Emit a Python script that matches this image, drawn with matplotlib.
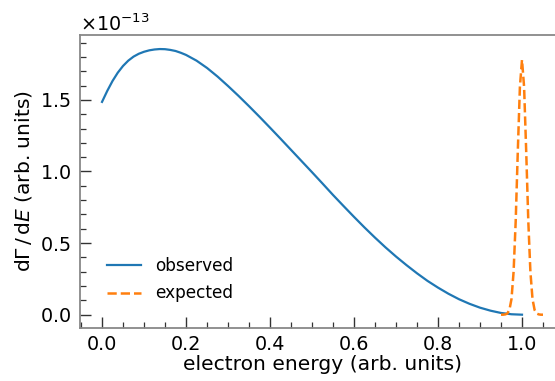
import matplotlib
matplotlib.use("Agg")
import matplotlib.pyplot as plt
from matplotlib.ticker import MultipleLocator, ScalarFormatter

# Measured electron spectrum (arb. units, in units of 1e-13)
energy_obs = [0.000, 0.0125, 0.025, 0.0375, 0.050, 0.0625, 0.075, 0.0875, 0.100, 0.1125,
              0.125, 0.1375, 0.150, 0.1625, 0.175, 0.1875, 0.200, 0.225, 0.250, 0.275,
              0.300, 0.325, 0.350, 0.375, 0.400, 0.425, 0.450, 0.475, 0.500, 0.525,
              0.550, 0.575, 0.600, 0.625, 0.650, 0.675, 0.700, 0.725, 0.750, 0.775,
              0.800, 0.825, 0.850, 0.875, 0.900, 0.925, 0.950, 0.975, 1.000]
rate_obs = [1.486, 1.563, 1.632, 1.690, 1.737, 1.774, 1.802, 1.822, 1.836, 1.846,
            1.852, 1.855, 1.854, 1.849, 1.8415, 1.829, 1.814, 1.774, 1.723, 1.663,
            1.597, 1.528, 1.456, 1.382, 1.306, 1.229, 1.151, 1.073, 0.995, 0.916,
            0.836, 0.759, 0.683, 0.609, 0.538, 0.470, 0.406, 0.346, 0.289, 0.236,
            0.189, 0.146, 0.108, 0.076, 0.049, 0.028, 0.012, 0.003, 0.000]

# Expected mono-energetic line at the endpoint
energy_exp = [0.950, 0.955, 0.960, 0.965, 0.970, 0.975, 0.980, 0.985, 0.990, 0.995,
              1.000, 1.005, 1.010, 1.015, 1.020, 1.025, 1.030, 1.035, 1.040, 1.045,
              1.050]
rate_exp = [0.000, 0.000, 0.002, 0.008, 0.033, 0.110, 0.300, 0.654, 1.141, 1.590,
            1.780, 1.590, 1.141, 0.654, 0.300, 0.110, 0.033, 0.008, 0.002, 0.000,
            0.000]

scale = 1e-13
y_obs = [v * scale for v in rate_obs]
y_exp = [v * scale for v in rate_exp]

fig = plt.figure(figsize=(5.55, 3.81), dpi=100)
ax = fig.add_axes([0.1441, 0.1391, 0.874, 0.769])

ax.plot(energy_obs, y_obs, color="#1f77b4", lw=1.6, label="observed")
ax.plot(energy_exp, y_exp, color="#ff7f0e", lw=1.8, ls="--", label="expected")

ax.set_xlim(-0.0525, 1.1025)
ax.set_ylim(-0.093e-13, 1.953e-13)

ax.xaxis.set_major_locator(MultipleLocator(0.2))
ax.xaxis.set_minor_locator(MultipleLocator(0.05))
ax.yaxis.set_major_locator(MultipleLocator(0.5e-13))
ax.yaxis.set_minor_locator(MultipleLocator(0.1e-13))

fmt = ScalarFormatter(useMathText=True)
fmt.set_powerlimits((-3, 3))
ax.yaxis.set_major_formatter(fmt)

ax.tick_params(which="both", direction="in", colors="#333333", labelcolor="black",
               labelsize=13.8, top=False, right=False)
ax.tick_params(which="major", length=8, width=1.0)
ax.tick_params(axis="x", which="major", pad=5)
ax.tick_params(axis="y", which="major", pad=6.5)
ax.tick_params(which="minor", length=4, width=0.9)

for side in ("left", "bottom", "top"):
    ax.spines[side].set_color("#888888")
    ax.spines[side].set_linewidth(1.3)
ax.spines["right"].set_visible(False)

ax.yaxis.get_offset_text().set_fontsize(13.8)

ax.set_xlabel("electron energy (arb. units)", fontsize=14.6, labelpad=1)
ax.set_ylabel(r"d$\Gamma\,/\,$d$E$ (arb. units)", fontsize=14.6, labelpad=4)

ax.legend(loc="lower left", bbox_to_anchor=(0.025, 0.035), frameon=False,
          fontsize=12.2, handlelength=2.0, labelspacing=0.55)

fig.savefig("out.png", dpi=100)
